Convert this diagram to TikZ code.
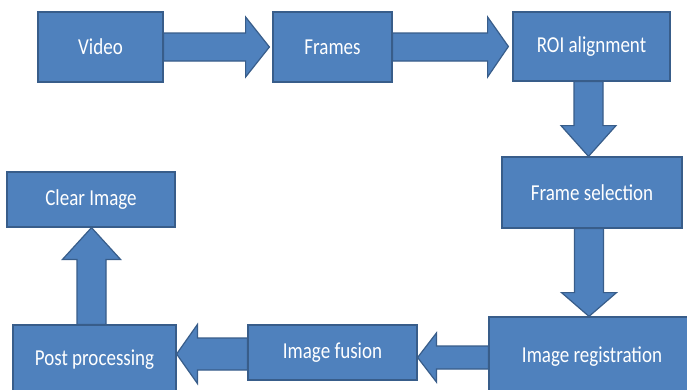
\documentclass[tikz,border=0pt]{standalone}
\usepackage{fontspec}
\usepackage{graphicx}
\setmainfont{Carlito}
\usetikzlibrary{calc}
\definecolor{boxfill}{RGB}{79,129,189}
\definecolor{boxline}{RGB}{56,93,138}
\newcommand{\stxt}[1]{\scalebox{1}[1.2]{#1}}
\newcommand{\hbarrow}[5]{%
  \path[barrow] ($(#1)+(0,-#4)$) -- ($(#1)+(#3,-#4)$) -- ($(#1)+(#3,-#5)$) -- (#2)
    -- ($(#1)+(#3,#5)$) -- ($(#1)+(#3,#4)$) -- ($(#1)+(0,#4)$) -- cycle;}
\newcommand{\vbarrow}[5]{%
  \path[barrow] ($(#1)+(-#4,0)$) -- ($(#1)+(-#4,#3)$) -- ($(#1)+(-#5,#3)$) -- (#2)
    -- ($(#1)+(#5,#3)$) -- ($(#1)+(#4,#3)$) -- ($(#1)+(#4,0)$) -- cycle;}
\begin{document}
\begin{tikzpicture}[x=1pt,y=-1pt,
  blockbox/.style={draw=boxline,fill=boxfill,line width=1.2pt,text=white,
    inner sep=0pt,font=\fontsize{19}{20}\selectfont},
  barrow/.style={draw=boxline,fill=boxfill,line width=1.2pt,line join=miter}]
\useasboundingbox (0,0) rectangle (687,389);
\clip (0,0) rectangle (687,389);
\fill[white] (0,0) rectangle (687,389);
% boxes
\node[blockbox,minimum width=125pt,minimum height=70pt] (video) at (100.5,47) {\stxt{Video}};
\node[blockbox,minimum width=119pt,minimum height=70pt] (frames) at (332.5,47) {\stxt{Frames}};
\node[blockbox,minimum width=157pt,minimum height=69pt] (roi) at (591.5,46.5) {\stxt{ROI alignment}};
\node[blockbox,minimum width=180pt,minimum height=71pt] (fs) at (592,192.5) {\stxt{Frame selection}};
\node[blockbox,minimum width=206pt,minimum height=80pt] (ir) at (592,357) {\stxt{Image registration}};
\node[blockbox,minimum width=169pt,minimum height=55pt] (fusion) at (332.5,352.5) {\stxt{Image fusion}};
\node[blockbox,minimum width=163pt,minimum height=70pt] (post) at (94.5,360) {\stxt{Post processing}};
\node[blockbox,minimum width=168pt,minimum height=55pt] (clear) at (91,199.5) {\stxt{Clear Image}};
% arrows
\coordinate (s1) at (video.east);
\coordinate (t1) at ($(frames.west)+(-3,0)$);
\hbarrow{s1}{t1}{82}{14}{30}
\coordinate (s2) at (frames.east);
\coordinate (t2) at ($(roi.west)+(-4,0)$);
\hbarrow{s2}{t2}{95}{14}{30}
\coordinate (s3) at ($(roi.south)+(-3,0)$);
\coordinate (t3) at (s3 |- fs.north);
\vbarrow{s3}{t3}{44}{14.5}{27.5}
\coordinate (s4) at ($(fs.south)+(-3,0)$);
\coordinate (t4) at (s4 |- ir.north);
\vbarrow{s4}{t4}{64}{14.5}{27.5}
\coordinate (s5) at ($(ir.west)+(0,0.5)$);
\coordinate (t5) at (fusion.east |- s5);
\hbarrow{s5}{t5}{-52}{11.5}{24.5}
\coordinate (s6) at ($(fusion.west)+(0,1.5)$);
\coordinate (t6) at (post.east |- s6);
\hbarrow{s6}{t6}{-50}{16}{29.5}
\coordinate (s7) at ($(post.north)+(-3,0)$);
\coordinate (t7) at (s7 |- clear.south);
\vbarrow{s7}{t7}{-65}{14.5}{29}
\end{tikzpicture}
\end{document}
